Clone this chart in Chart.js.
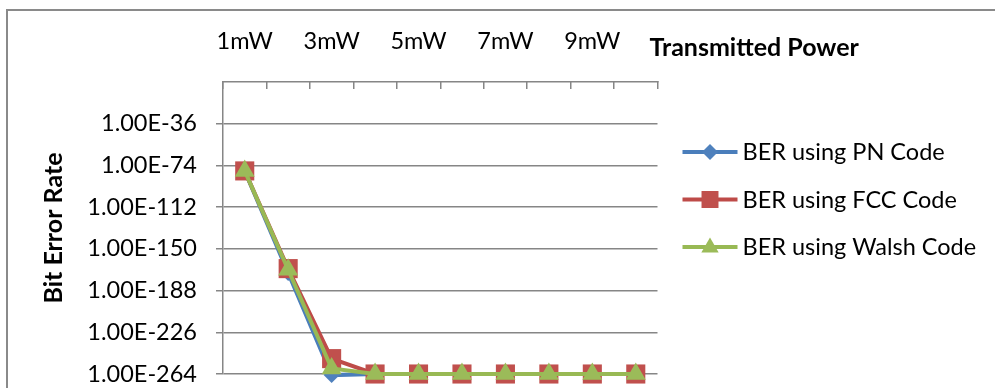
<!DOCTYPE html>
<html>
<head>
<meta charset="utf-8">
<script src="https://cdn.jsdelivr.net/npm/chart.js@4.4.1/dist/chart.umd.min.js"></script>
<style>
  html, body { margin: 0; padding: 0; background: #fff; overflow: hidden; }
  #wrap { position: relative; width: 995px; height: 388px; }
  #frame { position: absolute; left: 6px; top: 9px; width: 1000px; height: 400px;
           border: 2px solid #8a8a8a; box-sizing: border-box; }
  #c { position: absolute; left: 0; top: 0; }
</style>
</head>
<body>
<div id="wrap">
  <div id="frame"></div>
  <canvas id="c" width="995" height="388"></canvas>
</div>
<script>
// Transmitted power levels (x categories)
const powerLabels = ['1mW', '2mW', '3mW', '4mW', '5mW', '6mW', '7mW', '8mW', '9mW', '10mW'];

// Bit error rate per spreading code
const berPN    = [1e-79, 1e-172, 1e-265, 1e-264, 1e-264, 1e-264, 1e-264, 1e-264, 1e-264, 1e-264];
const berFCC   = [1e-79, 1e-168, 1e-250, 1e-264, 1e-264, 1e-264, 1e-264, 1e-264, 1e-264, 1e-264];
const berWalsh = [1e-79, 1e-169, 1e-259, 1e-264, 1e-264, 1e-264, 1e-264, 1e-264, 1e-264, 1e-264];

const seriesNames = ['BER using PN Code', 'BER using FCC Code', 'BER using Walsh Code'];

// Log-axis tick exponents and axis limits
const yTickExponents = [-264, -226, -188, -150, -112, -74, -36];
const yMinExponent = -264;
const yMaxExponent = 2;

const FONT = 'Lato, "Liberation Sans", sans-serif';
const TEXT_SIZE = 23.5;
const TITLE_SIZE = 25;
const GRID = '#868686';

const styles = [
  { line: '#4A7EBB', fill: '#4F81BD', shape: 'diamond',  radius: 8,    legendRadius: 8 },
  { line: '#BE4B48', fill: '#C0504D', shape: 'square',   radius: 13.5, legendRadius: 12 },
  { line: '#98B954', fill: '#9BBB59', shape: 'triangle', radius: 11.5, legendRadius: 10 }
];
const pointStyleMap = { diamond: 'rectRot', square: 'rect', triangle: 'triangle' };

function makeDataset(i, values, order) {
  const s = styles[i];
  return {
    label: seriesNames[i],
    data: values,
    borderColor: s.line,
    backgroundColor: s.fill,
    borderWidth: 4,
    pointStyle: pointStyleMap[s.shape],
    pointRadius: s.radius,
    pointBackgroundColor: s.fill,
    pointBorderColor: s.fill,
    pointBorderWidth: 0,
    tension: 0,
    clip: false,
    order: order
  };
}

function formatExp(v) {
  const e = Math.round(Math.log10(v));
  const sign = e < 0 ? '-' : '+';
  const mag = Math.abs(e);
  return '1.00E' + sign + (mag < 10 ? '0' + mag : String(mag));
}

function drawMarker(ctx, shape, x, y, r, color) {
  ctx.save();
  ctx.fillStyle = color;
  ctx.beginPath();
  if (shape === 'diamond') {
    ctx.moveTo(x, y - r); ctx.lineTo(x + r, y); ctx.lineTo(x, y + r); ctx.lineTo(x - r, y);
  } else if (shape === 'square') {
    const h = r * Math.SQRT1_2;
    ctx.rect(x - h, y - h, 2 * h, 2 * h);
  } else {
    const h = r * 0.866;
    ctx.moveTo(x, y - r * 0.95); ctx.lineTo(x + h, y + r * 0.55); ctx.lineTo(x - h, y + r * 0.55);
  }
  ctx.closePath();
  ctx.fill();
  ctx.restore();
}

// Legend on the right and the horizontal axis title
const sidePlugin = {
  id: 'sideLegend',
  afterDraw(chart) {
    const ctx = chart.ctx;
    const area = chart.chartArea;
    const lx0 = area.right + 25, lx1 = area.right + 80, lxm = (lx0 + lx1) / 2;
    const tx = area.right + 85;
    ctx.save();
    chart.data.datasets.forEach((ds, i) => {
      const s = styles[i];
      const cy = 152 + i * 47.5;
      ctx.strokeStyle = s.line;
      ctx.lineWidth = 4;
      ctx.beginPath();
      ctx.moveTo(lx0, cy); ctx.lineTo(lx1, cy);
      ctx.stroke();
      drawMarker(ctx, s.shape, lxm, cy, s.legendRadius, s.fill);
      ctx.fillStyle = '#000';
      ctx.font = TEXT_SIZE + 'px ' + FONT;
      ctx.textAlign = 'left';
      ctx.textBaseline = 'alphabetic';
      ctx.fillText(ds.label, tx, cy + 8);
    });
    ctx.font = 'bold ' + TITLE_SIZE + 'px ' + FONT;
    ctx.fillStyle = '#000';
    ctx.textAlign = 'left';
    ctx.textBaseline = 'alphabetic';
    ctx.fillText('Transmitted Power', area.right - 8, 56);
    ctx.restore();
  }
};

new Chart(document.getElementById('c'), {
  type: 'line',
  data: {
    labels: powerLabels,
    datasets: [
      makeDataset(0, berPN, 2),
      makeDataset(1, berFCC, 1),
      makeDataset(2, berWalsh, 0)
    ]
  },
  options: {
    responsive: false,
    animation: false,
    devicePixelRatio: 1,
    layout: { padding: { left: 0, top: 0, right: 337.5, bottom: 14 } },
    plugins: { legend: { display: false }, tooltip: { enabled: false } },
    scales: {
      x: {
        type: 'category',
        position: 'top',
        offset: true,
        afterFit(scale) { scale.height = 82; },
        grid: {
          display: true,
          offset: true,
          drawOnChartArea: false,
          drawTicks: true,
          tickLength: -7,
          color: GRID,
          lineWidth: 1.5
        },
        border: { display: true, color: GRID, width: 1.5 },
        ticks: {
          autoSkip: false,
          maxRotation: 0,
          minRotation: 0,
          padding: 33,
          color: '#000',
          font: { family: FONT, size: TEXT_SIZE },
          callback(value, index) { return index % 2 === 0 ? powerLabels[index] : ''; }
        }
      },
      y: {
        type: 'logarithmic',
        position: 'left',
        min: Math.pow(10, yMinExponent),
        max: Math.pow(10, yMaxExponent),
        afterFit(scale) {
          scale.width = 223;
          scale.paddingTop = 0;
          scale.paddingBottom = 0;
        },
        afterBuildTicks(scale) {
          scale.ticks = yTickExponents.map(e => ({ value: Math.pow(10, e) }));
        },
        grid: {
          color: GRID,
          lineWidth: 1.5,
          drawTicks: true,
          tickLength: 7
        },
        border: { display: true, color: GRID, width: 1.5 },
        ticks: {
          padding: 19,
          color: '#000',
          font: { family: FONT, size: TEXT_SIZE },
          callback(value) { return formatExp(value); }
        },
        title: {
          display: true,
          text: 'Bit Error Rate',
          color: '#000',
          font: { family: FONT, size: TITLE_SIZE, weight: 'bold' },
          padding: { top: 39, bottom: 0 }
        }
      }
    }
  },
  plugins: [sidePlugin]
});
</script>
</body>
</html>
